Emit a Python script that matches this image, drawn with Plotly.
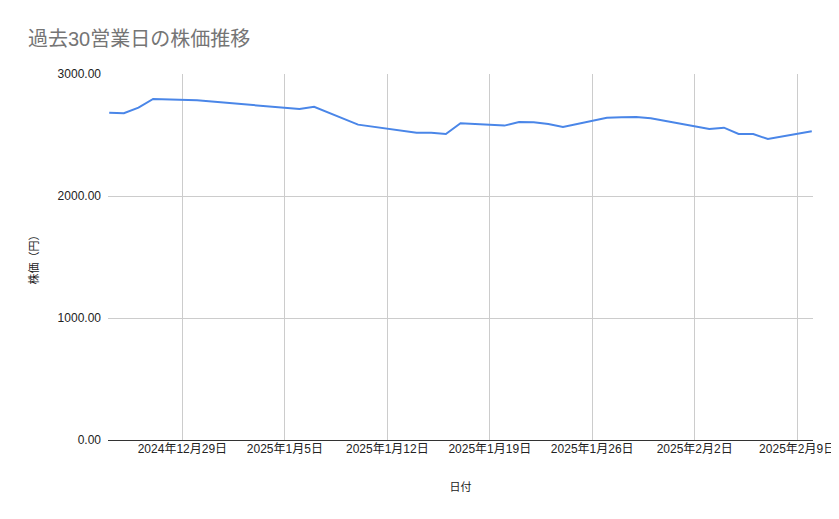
import plotly.graph_objects as go

# 過去30営業日の株価
dates = [
    "2024-12-24", "2024-12-25", "2024-12-26", "2024-12-27", "2024-12-30",
    "2025-01-06", "2025-01-07", "2025-01-08", "2025-01-09", "2025-01-10",
    "2025-01-14", "2025-01-15", "2025-01-16", "2025-01-17",
    "2025-01-20", "2025-01-21", "2025-01-22", "2025-01-23", "2025-01-24",
    "2025-01-27", "2025-01-28", "2025-01-29", "2025-01-30", "2025-01-31",
    "2025-02-03", "2025-02-04", "2025-02-05", "2025-02-06", "2025-02-07",
    "2025-02-10",
]
prices = [
    2683, 2678, 2724, 2795, 2784,
    2713, 2732, 2683, 2634, 2585,
    2519, 2519, 2508, 2596,
    2577, 2607, 2604, 2590, 2566,
    2642, 2645, 2647, 2637, 2616,
    2549, 2560, 2508, 2508, 2467,
    2530,
]
y_ticks = [0, 1000, 2000, 3000]

FONT = "Liberation Sans, Arial, Noto Sans CJK JP, sans-serif"

# the page body adds an 8px offset, so the figure is shrunk by 8px to fit the window
fig = go.Figure()
fig.add_trace(go.Scatter(
    x=dates, y=prices, mode="lines",
    line=dict(color="#4a86e8", width=2),
))

fig.update_layout(
    width=831, height=511,
    margin=dict(l=100, r=26, t=66, b=79, autoexpand=False),
    paper_bgcolor="white", plot_bgcolor="white",
    showlegend=False,
    font=dict(family=FONT, size=12, color="#222222"),
    title=dict(
        text="過去30営業日の株価推移",
        x=20 / 831, xref="container", xanchor="left",
        y=1 - 31 / 511, yref="container", yanchor="middle",
        font=dict(size=20, color="#757575", family=FONT),
    ),
)

fig.update_xaxes(
    range=["2024-12-23 22:00", "2025-02-10 02:00"],
    tick0="2024-12-29", dtick=7 * 86400000,
    tickformat="%Y年%-m月%-d日",
    showgrid=True, gridcolor="#cccccc", gridwidth=1,
    showline=False, zeroline=False, ticks="", automargin=False,
    tickfont=dict(size=12, color="#222222"),
    title=dict(text="日付", font=dict(size=11, color="#222222"), standoff=28),
)
fig.update_yaxes(
    range=[0, 3000],
    tickvals=y_ticks, ticktext=[f"{v:.2f}" for v in y_ticks],
    showgrid=True, gridcolor="#cccccc", gridwidth=1,
    zeroline=True, zerolinecolor="#333333", zerolinewidth=1,
    ticks="", ticklabelstandoff=6, automargin=False,
    tickfont=dict(size=12, color="#222222"),
    title=dict(text="株価（円）", font=dict(size=11, color="#222222"), standoff=16),
)

fig.write_html("out.html")
